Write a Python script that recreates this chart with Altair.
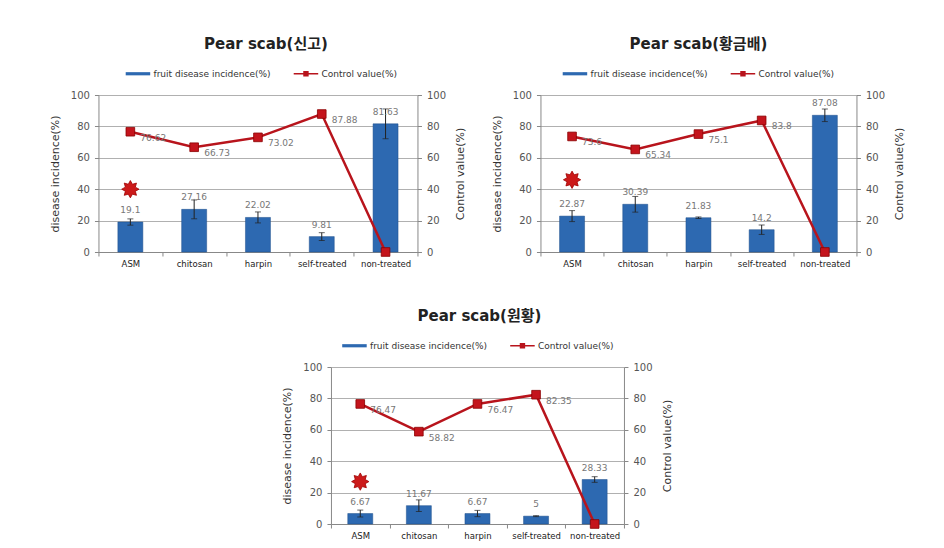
import math
import altair as alt
import pandas as pd

categories = ["ASM", "chitosan", "harpin", "self-treated", "non-treated"]

shingo_title = "Pear scab(신고)"
shingo_incidence = [19.1, 27.16, 22.02, 9.81, 81.63]
shingo_err = [2.0, 6.0, 3.5, 2.5, 9.5]
shingo_control = [76.62, 66.73, 73.02, 87.88, 0]
shingo_star = 40

hwang_title = "Pear scab(황금배)"
hwang_incidence = [22.87, 30.39, 21.83, 14.2, 87.08]
hwang_err = [3.5, 5.0, 0.5, 3.0, 4.0]
hwang_control = [73.6, 65.34, 75.1, 83.8, 0]
hwang_star = 46

won_title = "Pear scab(원황)"
won_incidence = [6.67, 11.67, 6.67, 5, 28.33]
won_err = [2.2, 3.7, 2.0, 0.3, 1.8]
won_control = [76.47, 58.82, 76.47, 82.35, 0]
won_star = 27

series_names = ["fruit disease incidence(%)", "Control value(%)"]

FONT = "DejaVu Sans, Noto Sans CJK KR, sans-serif"
BLUE = "#2d69b1"
RED = "#b8141c"

# 8-point burst shape
pts = []
for i in range(16):
    r = 1.0 if i % 2 == 0 else 0.62
    a = math.pi * i / 8 - math.pi / 2
    pts.append(f"{r*math.cos(a):.3f},{r*math.sin(a):.3f}")
STAR = "M" + "L".join(pts) + "Z"
BAR_SYM = "M-1,-0.13H1V0.13H-1Z"
LINE_SYM = "M-1,-0.07H-0.22V-0.22H0.22V-0.07H1V0.07H0.22V0.22H-0.22V0.07H-1Z"


def fmt(v):
    return str(int(v)) if float(v).is_integer() else str(v)


def panel(title, inc, err, ctrl, star, width, lx, ly, tdx):
    df = pd.DataFrame({"cat": categories, "inc": inc, "err": err, "ctrl": ctrl})
    df["lo"] = df["inc"] - df["err"]
    df["hi"] = df["inc"] + df["err"]
    df["inc_label"] = [fmt(v) for v in inc]
    df["ctrl_label"] = [fmt(v) for v in ctrl]

    xenc = alt.X("cat:N", sort=categories, title=None,
                 scale=alt.Scale(paddingInner=0, paddingOuter=0),
                 axis=alt.Axis(labelAngle=0, labelFontSize=8.5, labelColor="#222",
                               tickBand="extent", domainColor="#888", tickColor="#888",
                               tickSize=4, labelPadding=3))
    ysc = alt.Scale(domain=[0, 100], nice=False)
    lax = alt.Axis(values=[0, 20, 40, 60, 80, 100], title="disease incidence(%)",
                   titleFontSize=11, titleFontWeight="normal", titleColor="#333",
                   labelFontSize=10, labelColor="#555", gridColor="#b0b0b0",
                   domainColor="#888", tickColor="#888", tickSize=4,
                   labelPadding=5, titlePadding=10)
    rax = alt.Axis(orient="right", values=[0, 20, 40, 60, 80, 100],
                   title="Control value(%)", titleAngle=270,
                   titleFontSize=11, titleFontWeight="normal", titleColor="#333",
                   labelFontSize=10, labelColor="#555", grid=False,
                   domainColor="#888", tickColor="#888", tickSize=4,
                   labelPadding=5, titlePadding=20)
    base = alt.Chart(df).encode(x=xenc)

    bars = base.mark_bar(size=25, color=BLUE, stroke="#1f4f8a", strokeWidth=0.5).encode(
        y=alt.Y("inc:Q", scale=ysc, axis=lax))
    rule = base.mark_rule(color="#222", strokeWidth=1).encode(
        y=alt.Y("lo:Q", scale=ysc, axis=lax), y2="hi:Q")
    cap_lo = base.mark_tick(color="#222", size=6, thickness=1).encode(
        y=alt.Y("lo:Q", scale=ysc, axis=lax))
    cap_hi = base.mark_tick(color="#222", size=6, thickness=1).encode(
        y=alt.Y("hi:Q", scale=ysc, axis=lax))
    inc_text = base.mark_text(fontSize=9, color="#777", dy=-12, baseline="middle").encode(
        y=alt.Y("inc:Q", scale=ysc, axis=lax), text="inc_label:N")

    star_df = pd.DataFrame({"cat": [categories[0]], "v": [star]})
    star_l = alt.Chart(star_df).mark_point(shape=STAR, filled=True, size=300,
                                           color="#cc1a1a", stroke="#a00000",
                                           strokeWidth=0.8, opacity=1).encode(
        x=xenc, y=alt.Y("v:Q", scale=ysc, axis=lax))

    leg_df = pd.DataFrame({"series": series_names})
    leg_spec = alt.Legend(title=None, orient="none", legendX=lx, legendY=ly,
                          direction="horizontal", symbolSize=600, symbolOpacity=1,
                          symbolStrokeWidth=0, labelFontSize=9, labelColor="#333",
                          columnPadding=22, labelOffset=3)
    legend_l = alt.Chart(leg_df).mark_point(filled=True, opacity=0).encode(
        x=alt.value(0), y=alt.value(0),
        color=alt.Color("series:N", sort=series_names,
                        scale=alt.Scale(domain=series_names, range=[BLUE, RED]),
                        legend=leg_spec),
        shape=alt.Shape("series:N", sort=series_names,
                        scale=alt.Scale(domain=series_names, range=[BAR_SYM, LINE_SYM]),
                        legend=leg_spec))

    left = alt.layer(bars, rule, cap_lo, cap_hi, inc_text, star_l, legend_l)

    line = base.mark_line(color=RED, strokeWidth=2.5).encode(
        y=alt.Y("ctrl:Q", scale=ysc, axis=rax))
    pnts = base.mark_point(shape="square", filled=True, size=75, color="#c4141c",
                           stroke="#8a0000", strokeWidth=0.8, opacity=1).encode(
        y=alt.Y("ctrl:Q", scale=ysc, axis=rax))
    ctrl_text = base.transform_filter("datum.ctrl > 0").mark_text(
        fontSize=9, color="#777", align="left", dx=10, dy=6).encode(
        y=alt.Y("ctrl:Q", scale=ysc, axis=rax), text="ctrl_label:N")
    right = alt.layer(line, pnts, ctrl_text)

    return alt.layer(left, right).resolve_scale(y="independent").properties(
        width=width, height=157,
        title=alt.TitleParams(title, fontSize=15, fontWeight="bold", color="#222",
                              font=FONT, offset=9, frame="group", dx=tdx))


c1 = panel(shingo_title, shingo_incidence, shingo_err, shingo_control, shingo_star, 319, 27, -34, 8)
c2 = panel(hwang_title, hwang_incidence, hwang_err, hwang_control, hwang_star, 316, 22, -34, 0)
c3 = panel(won_title, won_incidence, won_err, won_control, won_star, 293, 11, -34, 2)

top = alt.hconcat(c1, c2, spacing=24).resolve_scale(
    color="independent", shape="independent").resolve_legend(
    color="independent", shape="independent")
chart = alt.vconcat(top, c3, spacing=41, center=True).resolve_scale(
    color="independent", shape="independent").resolve_legend(
    color="independent", shape="independent").properties(
    padding={"left": 41, "top": 29, "right": 5, "bottom": 5}
).configure(font=FONT).configure_view(strokeWidth=0)

chart.save("out.html", embed_options={"renderer": "svg", "actions": False})
